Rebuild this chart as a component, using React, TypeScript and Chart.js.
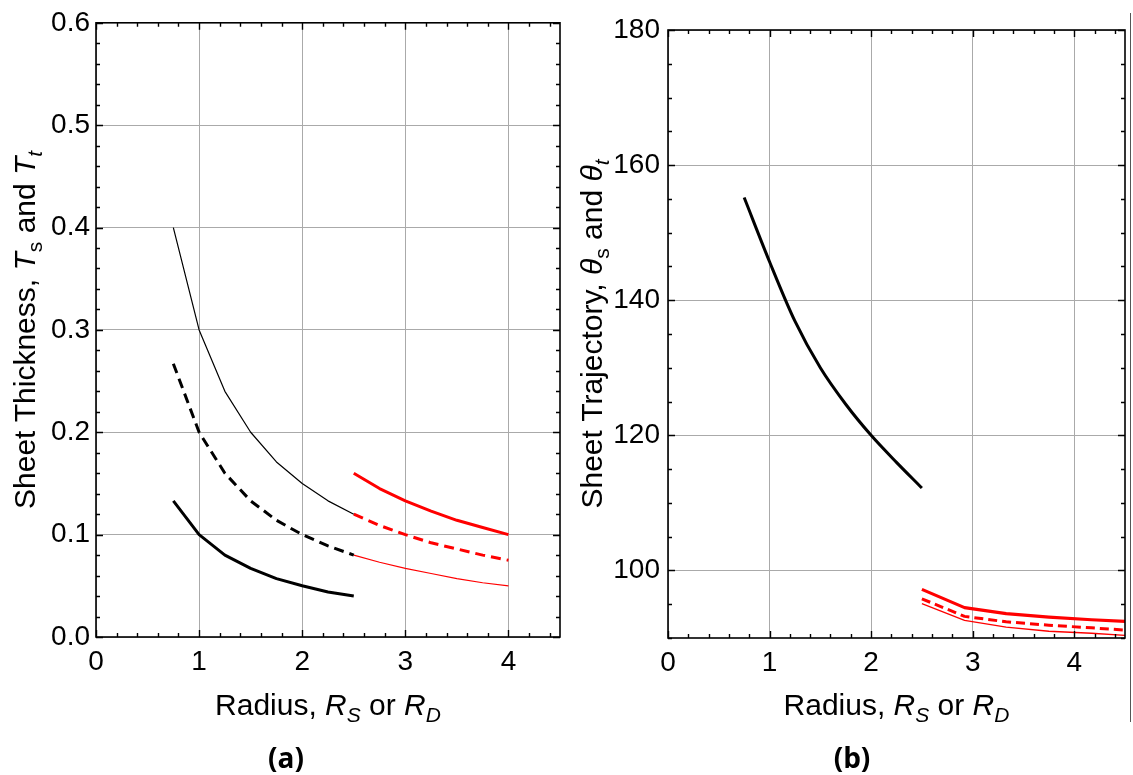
import React, { useEffect, useRef } from "react";
import { Chart, registerables } from "chart.js";

Chart.register(...registerables);

// ---------- Data: panel (a) sheet thickness ----------
const RADIUS_BLACK = [0.75, 1, 1.25, 1.5, 1.75, 2, 2.25, 2.5];
const RADIUS_RED_A = [2.5, 2.75, 3, 3.25, 3.5, 3.75, 4];
const THICK_BLACK_THIN = [0.4, 0.3, 0.24, 0.2, 0.171, 0.15, 0.133, 0.12];
const THICK_BLACK_DASHED = [0.267, 0.2, 0.16, 0.133, 0.114, 0.1, 0.089, 0.08];
const THICK_BLACK_BOLD = [0.133, 0.1, 0.08, 0.067, 0.057, 0.05, 0.044, 0.04];
const THICK_RED_BOLD = [0.16, 0.145, 0.133, 0.123, 0.114, 0.107, 0.1];
const THICK_RED_DASHED = [0.12, 0.109, 0.1, 0.092, 0.086, 0.08, 0.075];
const THICK_RED_THIN = [0.08, 0.073, 0.067, 0.062, 0.057, 0.053, 0.05];

// ---------- Data: panel (b) sheet trajectory ----------
const RADIUS_RED_B = [2.5, 2.92, 3.33, 3.75, 4.17, 4.58];
const TRAJ_BLACK = [155.2, 145.7, 136.9, 130.0, 124.6, 120.0, 116.0, 112.2];
const TRAJ_RED_BOLD = [97.2, 94.5, 93.6, 93.1, 92.7, 92.4];
const TRAJ_RED_DASHED = [95.8, 93.2, 92.4, 91.9, 91.5, 91.1];
const TRAJ_RED_THIN = [95.1, 92.6, 91.6, 91.0, 90.7, 90.3];

// ---------- Ticks ----------
const X_MAJOR = [0, 1, 2, 3, 4];
const X_MINOR_STEP = 0.2;
const X_RANGE = [0, 4.5];
const A_Y_MAJOR = [0, 0.1, 0.2, 0.3, 0.4, 0.5, 0.6];
const A_Y_MINOR_STEP = 0.02;
const A_Y_RANGE = [0, 0.6];
const B_Y_MAJOR = [100, 120, 140, 160, 180];
const B_Y_MINOR_STEP = 5;
const B_Y_RANGE = [90, 180];

const FONT = "'Liberation Sans', Arial, sans-serif";

type Seg = { t: string; it?: boolean; sub?: boolean };

const X_TITLE: Seg[] = [
  { t: "Radius, " },
  { t: "R", it: true },
  { t: "S", it: true, sub: true },
  { t: " or " },
  { t: "R", it: true },
  { t: "D", it: true, sub: true },
];
const A_Y_TITLE: Seg[] = [
  { t: "Sheet Thickness, " },
  { t: "T", it: true },
  { t: "s", sub: true },
  { t: " and " },
  { t: "T", it: true },
  { t: "t", it: true, sub: true },
];
const B_Y_TITLE: Seg[] = [
  { t: "Sheet Trajectory, " },
  { t: "θ", it: true },
  { t: "s", sub: true },
  { t: " and " },
  { t: "θ", it: true },
  { t: "t", it: true, sub: true },
];

function steps(lo: number, hi: number, step: number): number[] {
  const out: number[] = [];
  const n = Math.round((hi - lo) / step);
  for (let i = 0; i <= n; i++) out.push(+(lo + i * step).toFixed(6));
  return out;
}

function drawRich(ctx: CanvasRenderingContext2D, segs: Seg[], size: number) {
  const fontOf = (s: Seg) =>
    `${s.it ? "italic " : ""}${s.sub ? size * 0.7 : size}px ${FONT}`;
  const widths = segs.map((s) => {
    ctx.font = fontOf(s);
    return ctx.measureText(s.t).width;
  });
  const total = widths.reduce((a, b) => a + b, 0);
  let x = -total / 2;
  ctx.textAlign = "left";
  ctx.textBaseline = "alphabetic";
  ctx.fillStyle = "#000";
  segs.forEach((s, i) => {
    ctx.font = fontOf(s);
    ctx.fillText(s.t, x, s.sub ? size * 0.24 : 0);
    x += widths[i];
  });
}

const frameTicksPlugin = {
  id: "frameTicks",
  afterDraw(chart: any, _args: any, opts: any) {
    const { ctx, chartArea: a, scales } = chart;
    const xs = scales.x;
    const ys = scales.y;
    ctx.save();
    ctx.strokeStyle = "#000";
    ctx.lineWidth = 1.4;
    ctx.beginPath();
    const xMajor: number[] = opts.xMajor;
    const yMajor: number[] = opts.yMajor;
    opts.xMinor.forEach((v: number) => {
      const len = xMajor.some((m) => Math.abs(m - v) < 1e-6) ? 7 : 4;
      const px = Math.round(xs.getPixelForValue(v)) + 0.5;
      ctx.moveTo(px, a.bottom);
      ctx.lineTo(px, a.bottom - len);
      ctx.moveTo(px, a.top);
      ctx.lineTo(px, a.top + len);
    });
    opts.yMinor.forEach((v: number) => {
      const len = yMajor.some((m) => Math.abs(m - v) < 1e-6) ? 7 : 4;
      const py = Math.round(ys.getPixelForValue(v)) + 0.5;
      ctx.moveTo(a.left, py);
      ctx.lineTo(a.left + len, py);
      ctx.moveTo(a.right, py);
      ctx.lineTo(a.right - len, py);
    });
    ctx.stroke();
    ctx.lineWidth = 1.6;
    ctx.strokeRect(a.left, a.top, a.right - a.left, a.bottom - a.top);
    ctx.restore();
  },
};

const richTitlesPlugin = {
  id: "richTitles",
  afterDraw(chart: any, _args: any, opts: any) {
    const { ctx, chartArea: a } = chart;
    ctx.save();
    ctx.translate((a.left + a.right) / 2, a.bottom + opts.xOffset);
    drawRich(ctx, opts.x, opts.size);
    ctx.restore();
    ctx.save();
    ctx.translate(a.left - opts.yOffset, (a.top + a.bottom) / 2);
    ctx.rotate(-Math.PI / 2);
    drawRich(ctx, opts.y, opts.size);
    ctx.restore();
  },
};

function pts(xs: number[], ys: number[]) {
  return xs.map((x, i) => ({ x, y: ys[i] }));
}

function lineDs(
  xs: number[],
  ys: number[],
  color: string,
  width: number,
  dash: number[] = [],
  smooth = false
) {
  return {
    data: pts(xs, ys),
    borderColor: color,
    backgroundColor: color,
    borderWidth: width,
    borderDash: dash,
    pointRadius: 0,
    fill: false,
    tension: 0,
    cubicInterpolationMode: smooth ? "monotone" : "default",
    borderCapStyle: "butt",
    borderJoinStyle: "round",
  };
}

function makeConfig(p: {
  datasets: any[];
  yRange: number[];
  yMajor: number[];
  yMinorStep: number;
  yFmt: (v: number) => string;
  yTitle: Seg[];
  padding: any;
  yWidth: number;
  xHeight: number;
  yLabelPad: number;
  yTitleOffset: number;
  xTitleOffset: number;
}) {
  return {
    type: "line",
    data: { datasets: p.datasets },
    plugins: [frameTicksPlugin, richTitlesPlugin],
    options: {
      animation: false,
      responsive: false,
      devicePixelRatio: 1,
      layout: { padding: p.padding },
      plugins: {
        legend: { display: false },
        tooltip: { enabled: false },
        title: { display: false },
        frameTicks: {
          xMajor: X_MAJOR,
          xMinor: steps(X_RANGE[0], X_RANGE[1], X_MINOR_STEP),
          yMajor: p.yMajor,
          yMinor: steps(p.yRange[0], p.yRange[1], p.yMinorStep),
        },
        richTitles: {
          x: X_TITLE,
          y: p.yTitle,
          size: 30,
          xOffset: p.xTitleOffset,
          yOffset: p.yTitleOffset,
        },
      },
      scales: {
        x: {
          type: "linear",
          min: X_RANGE[0],
          max: X_RANGE[1],
          afterBuildTicks: (s: any) => {
            s.ticks = X_MAJOR.map((v) => ({ value: v }));
          },
          afterFit: (s: any) => {
            s.height = p.xHeight;
          },
          grid: { color: "#aaaaaa", lineWidth: 1, drawTicks: false },
          border: { display: false },
          ticks: {
            color: "#000",
            font: { family: FONT, size: 28 },
            padding: 8,
            maxRotation: 0,
            autoSkip: false,
            callback: (v: number) => String(v),
          },
        },
        y: {
          type: "linear",
          min: p.yRange[0],
          max: p.yRange[1],
          afterBuildTicks: (s: any) => {
            s.ticks = p.yMajor.map((v) => ({ value: v }));
          },
          afterFit: (s: any) => {
            s.width = p.yWidth;
          },
          grid: { color: "#aaaaaa", lineWidth: 1, drawTicks: false },
          border: { display: false },
          ticks: {
            color: "#000",
            font: { family: FONT, size: 28 },
            padding: p.yLabelPad,
            autoSkip: false,
            callback: (v: number) => p.yFmt(v),
          },
        },
      },
    },
  };
}

const RED = "#ff0000";
const BLACK = "#000000";

function ChartCanvas({ config, width, height, left }: any) {
  const ref = useRef<HTMLCanvasElement | null>(null);
  useEffect(() => {
    if (!ref.current) return;
    const chart = new Chart(ref.current, config);
    return () => chart.destroy();
  }, []);
  return (
    <canvas
      ref={ref}
      width={width}
      height={height}
      style={{ position: "absolute", left, top: 0, width, height }}
    />
  );
}

export default function App() {
  useEffect(() => {
    document.body.style.margin = "0";
    document.body.style.background = "#fff";
  }, []);

  const configA = makeConfig({
    datasets: [
      lineDs(RADIUS_BLACK, THICK_BLACK_THIN, BLACK, 1.2),
      lineDs(RADIUS_BLACK, THICK_BLACK_DASHED, BLACK, 3, [10, 6]),
      lineDs(RADIUS_BLACK, THICK_BLACK_BOLD, BLACK, 3),
      lineDs(RADIUS_RED_A, THICK_RED_BOLD, RED, 3),
      lineDs(RADIUS_RED_A, THICK_RED_DASHED, RED, 3, [10, 6]),
      lineDs(RADIUS_RED_A, THICK_RED_THIN, RED, 1.2),
    ],
    yRange: A_Y_RANGE,
    yMajor: A_Y_MAJOR,
    yMinorStep: A_Y_MINOR_STEP,
    yFmt: (v) => v.toFixed(1),
    yTitle: A_Y_TITLE,
    padding: { left: 0, top: 18, right: 6, bottom: 0 },
    yWidth: 96,
    xHeight: 138,
    yLabelPad: 6,
    yTitleOffset: 61,
    xTitleOffset: 78,
  });

  const configB = makeConfig({
    datasets: [
      lineDs(RADIUS_BLACK, TRAJ_BLACK, BLACK, 3, [], true),
      lineDs(RADIUS_RED_B, TRAJ_RED_BOLD, RED, 3.2),
      lineDs(RADIUS_RED_B, TRAJ_RED_DASHED, RED, 3, [9, 5]),
      lineDs(RADIUS_RED_B, TRAJ_RED_THIN, RED, 1.3),
    ],
    yRange: B_Y_RANGE,
    yMajor: B_Y_MAJOR,
    yMinorStep: B_Y_MINOR_STEP,
    yFmt: (v) => String(Math.round(v)),
    yTitle: B_Y_TITLE,
    padding: { left: 0, top: 30, right: 8, bottom: 0 },
    yWidth: 102,
    xHeight: 137,
    yLabelPad: 8,
    yTitleOffset: 66,
    xTitleOffset: 77,
  });

  const capStyle: React.CSSProperties = {
    position: "absolute",
    top: 739,
    width: 80,
    textAlign: "center",
    fontFamily: "'Open Sans', Lato, sans-serif",
    fontWeight: 700,
    fontSize: 28,
    lineHeight: "36px",
    color: "#000",
  };

  return (
    <div
      style={{
        position: "relative",
        width: 1133,
        height: 775,
        background: "#fff",
        overflow: "hidden",
      }}
    >
      <ChartCanvas config={configA} width={566} height={775} left={0} />
      <ChartCanvas config={configB} width={567} height={775} left={566} />
      <div style={{ ...capStyle, left: 286 - 40 }}>(a)</div>
      <div style={{ ...capStyle, left: 852 - 40 }}>(b)</div>
      <div
        style={{
          position: "absolute",
          left: 1130,
          top: 13,
          width: 1,
          height: 709,
          background: "#555",
        }}
      />
    </div>
  );
}
